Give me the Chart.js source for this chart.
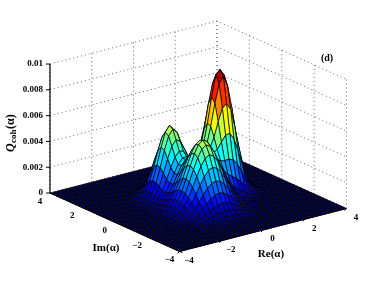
<!DOCTYPE html>
<html>
<head>
<meta charset="utf-8">
<title>Qcoh surface</title>
<script src="https://cdn.jsdelivr.net/npm/chart.js@4"></script>
<style>
  html, body { margin: 0; padding: 0; background: #fff; }
  canvas { display: block; }
</style>
</head>
<body>
<canvas id="myCanvas" width="382" height="284"></canvas>
<script>
// grid of the surface, Re(alpha) across, Im(alpha) along
var reValues = [-4,-3.8,-3.6,-3.4,-3.2,-3,-2.8,-2.6,-2.4,-2.2,-2,-1.8,-1.6,-1.4,-1.2,-1,-0.8,-0.6,-0.4,-0.2,0,0.2,0.4,0.6,0.8,1,1.2,1.4,1.6,1.8,2,2.2,2.4,2.6,2.8,3,3.2,3.4,3.6,3.8,4];
var imValues = [-4,-3.8,-3.6,-3.4,-3.2,-3,-2.8,-2.6,-2.4,-2.2,-2,-1.8,-1.6,-1.4,-1.2,-1,-0.8,-0.6,-0.4,-0.2,0,0.2,0.4,0.6,0.8,1,1.2,1.4,1.6,1.8,2,2.2,2.4,2.6,2.8,3,3.2,3.4,3.6,3.8,4];

// in units of 1e-5. one row per Im value
var flat = [0,0,0,0,0,0,0,0,0,0,0,0,0,0,0,0,0,0,0,0,0,0,0,0,0,0,0,0,0,0,0,0,0,0,0,0,0,0,0,0,0];
var qRows = [
  flat, flat, flat, flat,
  [0,0,0,0,0,0, 0,0,0,0,0,0,0,0,0,0,1,1,1,1,1,0,0,0,0,0,0,0,0,0,0,0,0,0,0,0, 0,0,0,0,0],
  [0,0,0,0,0,0, 0,0,0,0,0,0,0,1,2,2,3,3,3,3,3,2,2,1,0,0,0,0,0,0,0,0,0,0,0,0, 0,0,0,0,0],
  [0,0,0,0,0,0, 0,0,0,0,0,1,1,2,4,5,6,7,7,7,6,5,4,2,1,1,0,0,0,0,0,0,0,0,0,0, 0,0,0,0,0],
  [0,0,0,0,0,0, 0,0,0,0,1,2,3,5,8,10,13,14,15,14,13,10,8,5,3,2,1,0,0,0,0,0,0,0,0,0, 0,0,0,0,0],
  [0,0,0,0,0,0, 0,0,0,1,2,4,7,11,17,23,28,32,33,32,28,23,17,12,8,5,3,1,1,0,0,0,0,0,0,0, 0,0,0,0,0],
  [0,0,0,0,0,0, 0,0,1,2,4,8,13,22,32,42,52,60,63,60,53,43,33,23,14,8,5,3,1,1,0,0,0,0,0,0, 0,0,0,0,0],
  [0,0,0,0,0,0, 0,1,1,3,7,13,24,37,55,75,92,105,110,106,93,76,57,39,25,15,8,4,2,1,0,0,0,0,0,0, 0,0,0,0,0],
  [0,0,0,0,0,0, 0,1,2,5,11,22,37,60,88,120,149,169,177,170,150,122,91,62,40,24,13,7,3,2,1,0,0,0,0,0, 0,0,0,0,0],
  [0,0,0,0,0,0, 1,1,3,8,17,31,55,88,130,176,218,249,260,250,221,180,135,93,60,36,21,12,6,3,1,1,0,0,0,0, 0,0,0,0,0],
  [0,0,0,0,0,0, 1,2,4,11,23,43,75,120,176,239,296,338,353,340,300,245,184,129,85,53,33,19,11,6,3,1,1,0,0,0, 0,0,0,0,0],
  [0,0,0,0,0,0, 1,2,6,14,28,53,93,150,220,297,368,420,440,423,374,306,233,167,114,76,52,34,22,13,7,3,2,1,0,0, 0,0,0,0,0],
  [0,0,0,0,0,0, 1,2,7,16,32,61,106,171,251,340,422,481,504,486,432,356,276,208,154,118,91,69,48,30,17,8,4,1,0,0, 0,0,0,0,0],
  [0,0,0,0,0,0, 1,3,8,16,34,65,113,180,264,357,444,507,531,514,460,386,313,255,217,192,169,139,104,68,38,18,8,3,1,0, 0,0,0,0,0],
  [0,0,0,0,0,0, 1,2,7,17,33,63,109,175,257,347,431,493,517,503,455,395,343,317,312,314,302,264,201,132,76,37,15,6,2,0, 0,0,0,0,0],
  [0,0,0,0,0,0, 1,2,7,15,30,57,99,159,233,315,391,447,470,459,423,387,373,395,443,489,495,442,342,228,130,63,26,10,3,1, 0,0,0,0,0],
  [0,0,0,0,0,0, 1,2,5,12,26,48,84,136,201,274,341,389,408,401,379,369,398,477,589,685,713,660,515,345,198,96,40,14,4,1, 0,0,0,0,0],
  [0,0,0,0,0,0, 1,1,4,10,21,39,71,117,177,244,305,345,359,349,335,346,411,550,720,860,915,835,660,445,255,125,52,18,5,1, 0,0,0,0,0],
  [0,0,0,0,0,0, 0,1,3,8,17,34,64,110,173,243,305,343,347,327,307,321,405,565,760,925,957,905,705,480,275,135,56,20,6,1, 0,0,0,0,0],
  [0,0,0,0,0,0, 0,1,2,6,15,32,65,117,192,276,348,386,378,339,297,294,365,510,695,845,910,830,655,445,255,125,52,18,5,1, 0,0,0,0,0],
  [0,0,0,0,0,0, 0,0,2,6,14,33,71,136,228,332,422,463,443,377,305,268,299,405,545,665,710,650,515,345,198,96,40,14,4,1, 0,0,0,0,0],
  [0,0,0,0,0,0, 0,0,2,5,14,35,77,152,261,385,488,533,502,415,313,243,231,280,364,440,467,427,335,224,128,63,26,10,3,1, 0,0,0,0,0],
  [0,0,0,0,0,0, 0,0,2,5,13,34,78,156,270,399,508,552,516,418,302,211,170,177,216,256,270,246,193,129,74,36,15,6,2,0, 0,0,0,0,0],
  [0,0,0,0,0,0, 0,0,1,4,11,30,70,141,244,362,460,500,466,374,263,171,118,104,114,129,134,121,95,64,36,18,8,3,1,0, 0,0,0,0,0],
  [0,0,0,0,0,0, 0,0,1,3,9,23,54,110,190,283,360,391,363,290,201,126,78,57,54,57,58,52,40,27,16,8,3,1,0,0, 0,0,0,0,0],
  [0,0,0,0,0,0, 0,0,1,2,6,15,36,73,127,188,239,261,242,193,133,82,47,30,24,23,22,19,15,10,6,3,1,0,0,0, 0,0,0,0,0],
  [0,0,0,0,0,0, 0,0,0,1,3,9,21,42,73,108,137,149,139,111,76,46,26,15,11,9,8,7,6,4,2,1,0,0,0,0, 0,0,0,0,0],
  [0,0,0,0,0,0, 0,0,0,1,2,4,10,20,35,53,67,73,68,54,38,23,13,7,5,4,3,2,2,1,1,0,0,0,0,0, 0,0,0,0,0],
  [0,0,0,0,0,0, 0,0,0,0,1,2,4,9,15,22,28,31,29,23,16,10,6,3,2,1,1,1,0,0,0,0,0,0,0,0, 0,0,0,0,0],
  [0,0,0,0,0,0, 0,0,0,0,0,1,2,3,5,8,10,11,10,8,6,4,2,2,1,1,0,0,0,0,0,0,0,0,0,0, 0,0,0,0,0],
  [0,0,0,0,0,0, 0,0,0,0,0,0,0,1,1,2,3,3,3,2,2,1,1,0,0,0,0,0,0,0,0,0,0,0,0,0, 0,0,0,0,0],
  [0,0,0,0,0,0, 0,0,0,0,0,0,0,0,0,1,1,1,1,1,0,0,0,0,0,0,0,0,0,0,0,0,0,0,0,0, 0,0,0,0,0],
  flat, flat, flat, flat, flat, flat
];

var qTicks = [0, 0.002, 0.004, 0.006, 0.008, 0.01];
var qTickLabels = ["0", "0.002", "0.004", "0.006", "0.008", "0.01"];
var reTicks = [-4, -2, 0, 2, 4];
var imTicks = [-4, -2, 0, 2, 4];
var tickLabels = ["\u22124", "\u22122", "0", "2", "4"];

// view of the box, same as the matlab axes in the picture
function project(re, im, q) {
  return {
    x: 179.5 + (re + 4) * 20.875 - (im + 4) * 16.19,
    y: 251.5 - (re + 4) * 5.375 - (im + 4) * 7.31 - q * 12900
  };
}

// jet, blue end pulled down a bit so the floor comes out navy
function jet(t) {
  var r = Math.min(4 * t - 1.5, -4 * t + 4.5);
  var g = Math.min(4 * t - 0.5, -4 * t + 3.5);
  var b = Math.min(4 * t + 0.38, -4 * t + 2.5);
  function c(v) { return Math.round(255 * Math.max(0, Math.min(1, v))); }
  return "rgb(" + c(r) + "," + c(g) + "," + c(b) + ")";
}

var qMax = 957;
var datasets = [];

function addLine(points, color, width, dash) {
  datasets.push({
    data: points,
    showLine: true,
    fill: false,
    pointRadius: 0,
    borderColor: color,
    borderWidth: width,
    borderDash: dash || [],
    tension: 0
  });
}

// box edges and ticks go on top, first dataset is drawn last
addLine([project(-4, 4, 0), project(-4, -4, 0), project(4, -4, 0)], "#000", 1);
addLine([project(-4, 4, 0), project(-4, 4, 0.01)], "#000", 1.2);
qTicks.forEach(function(q) {
  var a = project(-4, 4, q);
  addLine([a, {x: a.x - 4, y: a.y}], "#000", 1);
});
reTicks.forEach(function(re) {
  var a = project(re, -4, 0);
  addLine([a, {x: a.x - 2, y: a.y + 2}], "#000", 1);
});
imTicks.forEach(function(im) {
  var a = project(-4, im, 0);
  addLine([a, {x: a.x + 3, y: a.y + 1}], "#000", 1);
});

// surface, front cells first so back ones are painted under them
for (var j = 0; j < imValues.length - 1; j++) {
  for (var i = 0; i < reValues.length - 1; i++) {
    var q0 = qRows[j][i], q1 = qRows[j][i + 1], q2 = qRows[j + 1][i + 1], q3 = qRows[j + 1][i];
    var p0 = project(reValues[i], imValues[j], q0 * 1e-5);
    datasets.push({
      data: [
        p0,
        project(reValues[i + 1], imValues[j], q1 * 1e-5),
        project(reValues[i + 1], imValues[j + 1], q2 * 1e-5),
        project(reValues[i], imValues[j + 1], q3 * 1e-5),
        p0
      ],
      showLine: true,
      fill: "shape",
      pointRadius: 0,
      backgroundColor: jet(((q0 + q1 + q2 + q3) / 4) / qMax),
      borderColor: "#000",
      borderWidth: 0.7,
      tension: 0
    });
  }
}

// dotted grid on the two back walls
var gridDash = [1, 3];
var gridColor = "#666";
qTicks.forEach(function(q) {
  addLine([project(-4, 4, q), project(4, 4, q), project(4, -4, q)], gridColor, 1, gridDash);
});
reTicks.forEach(function(re) {
  addLine([project(re, 4, 0), project(re, 4, 0.01)], gridColor, 1, gridDash);
});
imTicks.forEach(function(im) {
  addLine([project(4, im, 0), project(4, im, 0.01)], gridColor, 1, gridDash);
});

var textPlugin = {
  id: "axisText",
  afterDraw: function(chart) {
    var ctx = chart.ctx;
    var sx = chart.scales.x, sy = chart.scales.y;
    function put(str, p, dx, dy, align) {
      ctx.textAlign = align || "center";
      ctx.fillText(str, sx.getPixelForValue(p.x) + dx, sy.getPixelForValue(p.y) + dy);
    }
    ctx.save();
    ctx.fillStyle = "#000";
    ctx.textBaseline = "middle";
    ctx.font = "bold 9px 'Liberation Serif'";
    qTicks.forEach(function(q, n) { put(qTickLabels[n], project(-4, 4, q), -7, 0, "right"); });
    reTicks.forEach(function(re, n) { put(tickLabels[n], project(re, -4, 0), 9.5, 9); });
    imTicks.forEach(function(im, n) { put(tickLabels[n], project(-4, im, 0), -10, 8.5); });
    ctx.font = "bold 11px 'Liberation Serif'";
    ctx.textAlign = "center";
    ctx.fillText("Re(\u03b1)", 271, 254);
    ctx.fillText("Im(\u03b1)", 106, 248);
    ctx.font = "bold 10px 'Liberation Serif'";
    ctx.fillText("(d)", 327, 58);
    // rotated z label with subscript
    ctx.save();
    ctx.translate(11, 132);
    ctx.rotate(-Math.PI / 2);
    ctx.textAlign = "left";
    ctx.font = "italic bold 12px 'Liberation Serif'";
    ctx.fillText("Q", -20, 0);
    ctx.font = "bold 9px 'Liberation Serif'";
    ctx.fillText("coh", -11, 3);
    ctx.font = "bold 12px 'Liberation Serif'";
    ctx.fillText("(\u03b1)", 3, 0);
    ctx.restore();
    ctx.restore();
  }
};

var chart = new Chart(document.getElementById("myCanvas").getContext("2d"), {
  type: "scatter",
  data: { datasets: datasets },
  options: {
    responsive: false,
    animation: false,
    events: [],
    layout: { padding: 0 },
    plugins: { legend: { display: false }, tooltip: { enabled: false } },
    scales: {
      x: { type: "linear", min: 0, max: 382, display: false },
      y: { type: "linear", min: 0, max: 284, reverse: true, display: false }
    }
  },
  plugins: [textPlugin]
});
</script>
</body>
</html>
